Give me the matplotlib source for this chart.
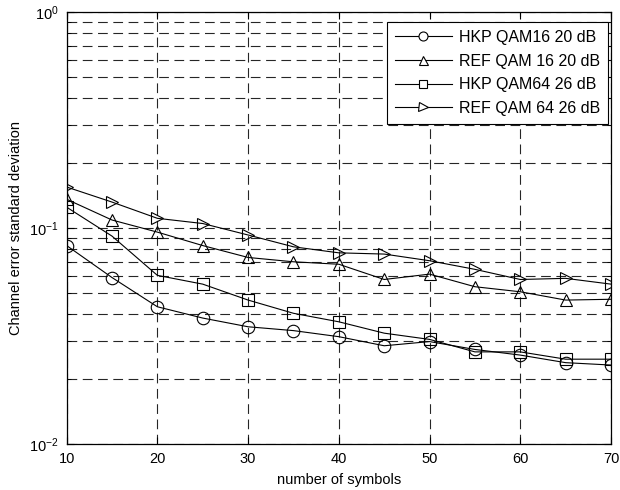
import matplotlib
matplotlib.use('Agg')
import matplotlib.pyplot as plt
import matplotlib.ticker as mtick
import numpy as np

plt.rcParams['font.family'] = ['Liberation Sans', 'DejaVu Sans']
plt.rcParams['mathtext.fontset'] = 'custom'
plt.rcParams['mathtext.rm'] = 'Liberation Sans'
plt.rcParams['mathtext.default'] = 'regular'
plt.rcParams['lines.scale_dashes'] = False

symbols = [10, 15, 20, 25, 30, 35, 40, 45, 50, 55, 60, 65, 70]
hkp_qam16 = [0.083, 0.059, 0.0432, 0.0383, 0.0349, 0.0335, 0.0314, 0.0285, 0.0298, 0.0274, 0.0258, 0.0238, 0.0232]
ref_qam16 = [0.136, 0.109, 0.0958, 0.083, 0.0731, 0.0698, 0.068, 0.0578, 0.0612, 0.0535, 0.0507, 0.0464, 0.0468]
hkp_qam64 = [0.125, 0.0918, 0.0604, 0.055, 0.0464, 0.0403, 0.0368, 0.0326, 0.0305, 0.0267, 0.0267, 0.0247, 0.0247]
ref_qam64 = [0.155, 0.132, 0.111, 0.105, 0.0929, 0.0819, 0.0768, 0.0758, 0.0706, 0.0644, 0.0578, 0.0585, 0.055]

labels = ['HKP QAM16 20 dB', 'REF QAM 16 20 dB', 'HKP QAM64 26 dB', 'REF QAM 64 26 dB']
markers = ['o', '^', 's', '>']

fs = 10.5
fig = plt.figure(figsize=(6.2, 4.9), dpi=100)
ax = fig.add_axes([0.1075, 0.094, 0.878, 0.881])

for ys, lab, m in zip([hkp_qam16, ref_qam16, hkp_qam64, ref_qam64], labels, markers):
    ax.plot(symbols, ys, color='k', lw=0.8, marker=m, ms=9 if m != 's' else 8,
            mfc='none', mec='k', mew=0.8, label=lab)

ax.set_yscale('log')
ax.set_xlim(10, 70)
ax.set_ylim(0.01, 1)
ax.set_xticks(range(10, 71, 10))
ax.yaxis.set_major_locator(mtick.LogLocator(base=10, numticks=5))
ax.yaxis.set_minor_locator(mtick.LogLocator(base=10, subs=np.arange(2, 10), numticks=20))
ax.yaxis.set_minor_formatter(mtick.NullFormatter())

ax.grid(True, which='both', axis='y', color='0.15', lw=0.8, linestyle=(0, (7, 4)))
ax.grid(True, which='major', axis='x', color='0.15', lw=0.8, linestyle=(0, (7, 4)))

ax.tick_params(which='both', direction='in', top=True, right=True, labelsize=fs)
ax.tick_params(which='major', length=5, width=0.8, pad=6)
ax.tick_params(which='minor', length=3, width=0.6)
for s in ax.spines.values():
    s.set_linewidth(0.9)

ax.set_xlabel('number of symbols', fontsize=fs, labelpad=5)
ax.set_ylabel('Channel error standard deviation', fontsize=fs, labelpad=4)

leg = ax.legend(loc='upper right', bbox_to_anchor=(0.994, 0.978), borderaxespad=0,
                fontsize=11.5, fancybox=False, framealpha=1, edgecolor='k',
                handlelength=3.6, handletextpad=0.4, borderpad=0.5,
                labelspacing=0.55, markerscale=0.72)
leg.get_frame().set_linewidth(0.8)
for h in leg.legend_handles:
    h.set_markerfacecolor('white')

fig.savefig('out.png', dpi=100)
